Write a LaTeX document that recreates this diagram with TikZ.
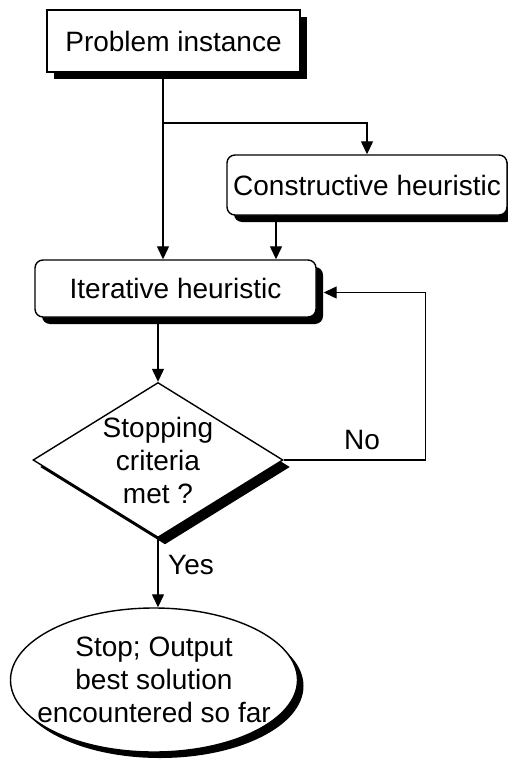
\documentclass[tikz,border=0pt]{standalone}
\usepackage{fontspec}
\setmainfont{Liberation Sans}
\usepackage{tikz}
\usetikzlibrary{positioning,arrows.meta,shapes.geometric,shadows}

\begin{document}
\begin{tikzpicture}[
    x=1pt, y=1pt,
    font=\fontsize{28}{33}\selectfont,
    line width=1.4pt,
    shadowed/.style={drop shadow={shadow xshift=7pt, shadow yshift=-7pt, fill=black, opacity=1}},
    stepbox/.style={draw=black, fill=white, shadowed, inner sep=0pt},
    decision/.style={diamond, draw=black, fill=white, shadowed, aspect=1.6, inner sep=-4pt, minimum width=250pt, minimum height=155pt, align=center},
    endstate/.style={ellipse, draw=black, fill=white, drop shadow={shadow xshift=6pt, shadow yshift=-6pt, fill=black, opacity=1}, inner xsep=-16pt, inner ysep=0pt, minimum width=287pt, minimum height=144pt, align=center},
    arr/.style={-{Triangle[length=13pt, width=12pt]}, line width=1.3pt}
]
    % 0. Cornice della figura
    \useasboundingbox (0,0) rectangle (508,-762);

    % 1. Blocchi principali
    \node[stepbox, minimum width=253pt, minimum height=62pt] (prob) at (173.5,-41) {Problem instance};
    \node[stepbox, rounded corners=8pt, minimum width=280pt, minimum height=60pt] (cons) at (367,-185) {Constructive heuristic};
    \node[stepbox, rounded corners=8pt, minimum width=281pt, minimum height=57pt] (iter) at (175.5,-288.5) {Iterative heuristic};

    % 2. Test di arresto
    \node[decision] (test) at (158,-460) {Stopping\\criteria\\met ?};

    % 3. Uscita
    \node[endstate] (stop) at (154,-680) {Stop; Output\\best solution\\encountered so far};

    % 4. Punti di diramazione
    \coordinate (split) at (163,-123);
    \coordinate (consout) at (276,-215);

    % 5. Collegamenti
    \draw[arr] (prob.south -| split) -- (iter.north -| split);
    \draw[arr] (split) -| (cons.north);
    \draw[arr] (consout) -- (consout |- iter.north);
    \draw[arr] (iter.south -| test.north) -- (test.north);
    \draw[arr, shorten >=7pt] (test.east) -- ++(142,0) |- ([yshift=-4pt]iter.east);
    \draw[arr] (test.south) -- (test.south |- stop.north);

    % 6. Etichette dei rami
    \node (nolbl) at (362,-440) {No};
    \node (yeslbl) at (191,-565) {Yes};
\end{tikzpicture}
\end{document}
